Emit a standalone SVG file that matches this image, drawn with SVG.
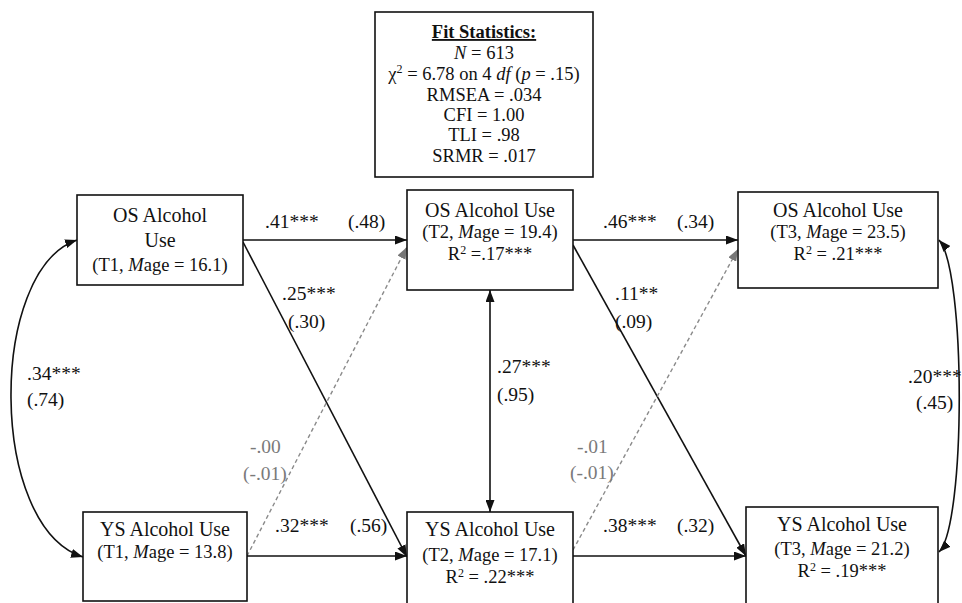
<svg xmlns="http://www.w3.org/2000/svg" width="962" height="603" viewBox="0 0 962 603">
  <style>
    text { font-family: "Liberation Serif", "Times New Roman", serif; fill: #111; }
    .t1 { font-size: 20px; text-anchor: middle; }
    .t2 { font-size: 18.5px; text-anchor: middle; }
    .fs { font-size: 18.5px; text-anchor: middle; }
    .lb { font-size: 19.5px; }
    .gr { fill: #7a7a7a; }
    .box { fill: #fff; stroke: #111; stroke-width: 1.6; }
    .ln { fill: none; stroke: #111; stroke-width: 1.6; }
    .dash { fill: none; stroke: #8a8a8a; stroke-width: 1.4; stroke-dasharray: 4 3; }
    .it { font-style: italic; }
    .sup { font-size: 12px; }
  </style>
  <defs>
    <marker id="ah" viewBox="0 0 12 9" refX="12" refY="4.5" markerWidth="12" markerHeight="9" markerUnits="userSpaceOnUse" orient="auto-start-reverse">
      <path d="M0,0 L12,4.5 L0,9 z" fill="#111"/>
    </marker>
    <marker id="ahg" viewBox="0 0 12 9" refX="12" refY="4.5" markerWidth="12" markerHeight="9" markerUnits="userSpaceOnUse" orient="auto">
      <path d="M0,0 L12,4.5 L0,9 z" fill="#777"/>
    </marker>
  </defs>
  <rect width="962" height="603" fill="#fff"/>

  <!-- paths between the measures -->
  <g id="connectors">
    <line class="ln" x1="243" y1="240" x2="407" y2="240" marker-end="url(#ah)"/>
    <line class="ln" x1="243" y1="242" x2="407" y2="557" marker-end="url(#ah)"/>
    <line class="dash" x1="247" y1="556" x2="407" y2="247" marker-end="url(#ahg)"/>
    <line class="ln" x1="247" y1="556" x2="407" y2="556" marker-end="url(#ah)"/>
    <line class="ln" x1="573" y1="240" x2="738" y2="240" marker-end="url(#ah)"/>
    <line class="ln" x1="573" y1="245" x2="746" y2="556" marker-end="url(#ah)"/>
    <line class="dash" x1="573" y1="550" x2="738" y2="249" marker-end="url(#ahg)"/>
    <line class="ln" x1="573" y1="556" x2="746" y2="556" marker-end="url(#ah)"/>
    <line class="ln" x1="490" y1="290" x2="490" y2="512" marker-start="url(#ah)" marker-end="url(#ah)"/>
    <path class="ln" d="M77,240 C-12,270 -12,527 83,557" marker-start="url(#ah)" marker-end="url(#ah)"/>
    <path class="ln" d="M939,240 C966,270 966,525 939,552" marker-start="url(#ah)" marker-end="url(#ah)"/>
  </g>

  <!-- path coefficients -->
  <g id="labels">
    <text class="lb" x="265" y="228">.41***</text>
    <text class="lb" x="348" y="228">(.48)</text>
    <text class="lb" x="282" y="300">.25***</text>
    <text class="lb" x="288" y="328">(.30)</text>
    <text class="lb gr" x="250" y="453">-.00</text>
    <text class="lb gr" x="243" y="480">(-.01)</text>
    <text class="lb" x="275" y="532">.32***</text>
    <text class="lb" x="350" y="532">(.56)</text>
    <text class="lb" x="497" y="373">.27***</text>
    <text class="lb" x="497" y="401">(.95)</text>
    <text class="lb" x="603" y="228">.46***</text>
    <text class="lb" x="677" y="228">(.34)</text>
    <text class="lb" x="615" y="300">.11**</text>
    <text class="lb" x="615" y="328">(.09)</text>
    <text class="lb gr" x="577" y="453">-.01</text>
    <text class="lb gr" x="570" y="479">(-.01)</text>
    <text class="lb" x="603" y="532">.38***</text>
    <text class="lb" x="677" y="532">(.32)</text>
    <text class="lb" x="27" y="380">.34***</text>
    <text class="lb" x="27" y="406">(.74)</text>
    <text class="lb" x="908" y="383">.20***</text>
    <text class="lb" x="916" y="409">(.45)</text>
  </g>

  <g id="fit-statistics">
    <rect class="box" x="375" y="12" width="218" height="165"/>
    <text class="fs" x="484" y="38" font-weight="bold" text-decoration="underline">Fit Statistics:</text>
    <text class="fs" x="484" y="59"><tspan class="it">N</tspan> = 613</text>
    <text class="fs" x="484" y="80">χ<tspan class="sup" dy="-7">2</tspan><tspan dy="7"> = 6.78 on 4 </tspan><tspan class="it">df</tspan> (<tspan class="it">p</tspan> = .15)</text>
    <text class="fs" x="484" y="101">RMSEA = .034</text>
    <text class="fs" x="484" y="121">CFI = 1.00</text>
    <text class="fs" x="484" y="141">TLI = .98</text>
    <text class="fs" x="484" y="162">SRMR = .017</text>
  </g>

  <g id="os-t1">
    <rect class="box" x="77" y="195" width="166" height="90"/>
    <text class="t1" x="160" y="222">OS Alcohol</text>
    <text class="t1" x="160" y="247">Use</text>
    <text class="t2" x="160" y="271">(T1, <tspan class="it">M</tspan>age = 16.1)</text>
  </g>

  <g id="os-t2">
    <rect class="box" x="407" y="190" width="166" height="100"/>
    <text class="t1" x="490" y="217">OS Alcohol  Use</text>
    <text class="t2" x="490" y="238">(T2, <tspan class="it">M</tspan>age = 19.4)</text>
    <text class="t2" x="490" y="260">R<tspan class="sup" dy="-6">2</tspan><tspan dy="6"> =.17***</tspan></text>
  </g>

  <g id="os-t3">
    <rect class="box" x="738" y="192" width="200" height="96"/>
    <text class="t1" x="838" y="217">OS Alcohol  Use</text>
    <text class="t2" x="838" y="238">(T3, <tspan class="it">M</tspan>age = 23.5)</text>
    <text class="t2" x="838" y="260">R<tspan class="sup" dy="-6">2</tspan><tspan dy="6"> = .21***</tspan></text>
  </g>

  <g id="ys-t1">
    <rect class="box" x="83" y="512" width="164" height="89"/>
    <text class="t1" x="165" y="536">YS Alcohol  Use</text>
    <text class="t2" x="165" y="558">(T1, <tspan class="it">M</tspan>age = 13.8)</text>
  </g>

  <g id="ys-t2">
    <rect class="box" x="407" y="512" width="166" height="100"/>
    <text class="t1" x="490" y="536">YS Alcohol  Use</text>
    <text class="t2" x="490" y="561">(T2, <tspan class="it">M</tspan>age = 17.1)</text>
    <text class="t2" x="490" y="583">R<tspan class="sup" dy="-6">2</tspan><tspan dy="6"> = .22***</tspan></text>
  </g>

  <g id="ys-t3">
    <rect class="box" x="746" y="507" width="192" height="105"/>
    <text class="t1" x="842" y="531">YS Alcohol  Use</text>
    <text class="t2" x="842" y="555">(T3, <tspan class="it">M</tspan>age = 21.2)</text>
    <text class="t2" x="842" y="577">R<tspan class="sup" dy="-6">2</tspan><tspan dy="6"> = .19***</tspan></text>
  </g>
</svg>
